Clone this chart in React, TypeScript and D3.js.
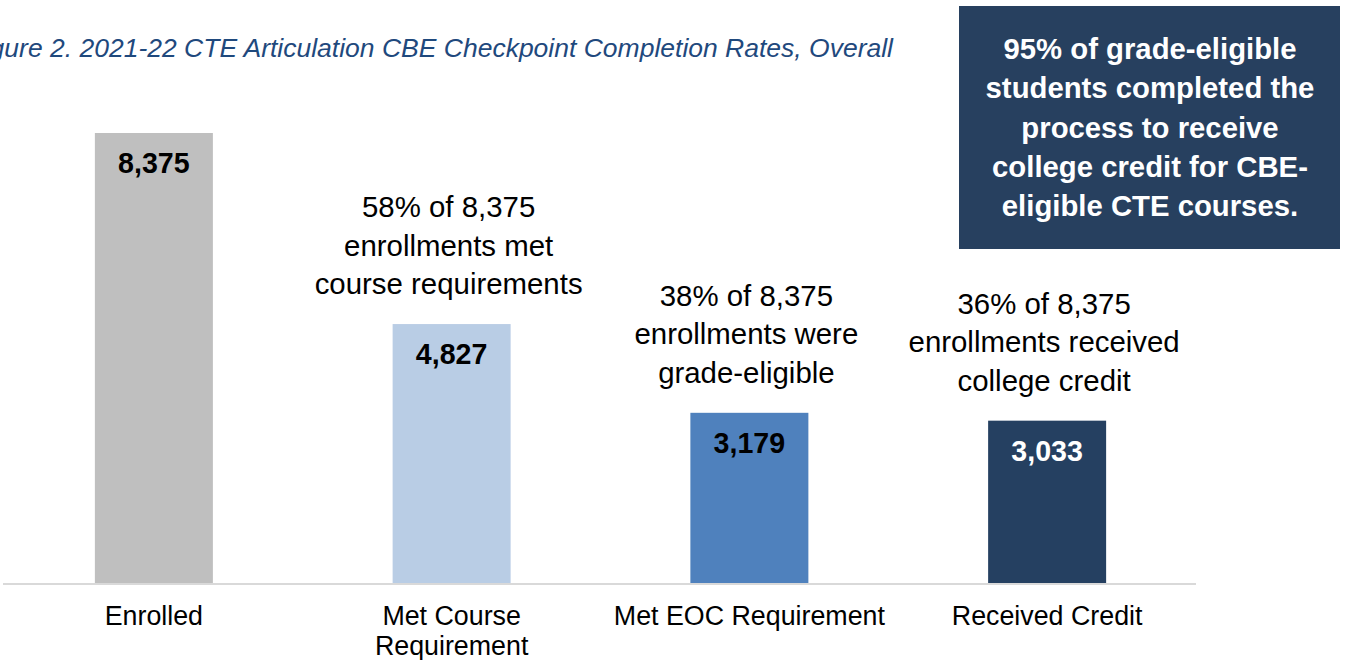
import React from "react";
import * as d3 from "d3";

const categories = ["Enrolled", "Met Course Requirement", "Met EOC Requirement", "Received Credit"];
const categoryLines = [["Enrolled"], ["Met Course", "Requirement"], ["Met EOC Requirement"], ["Received Credit"]];
const values = [8375, 4827, 3179, 3033];
const colors = ["#bfbfbf", "#b9cde5", "#4f81bd", "#254061"];
const labelColors = ["#000000", "#000000", "#000000", "#ffffff"];
const annotations: string[][] = [
  [],
  ["58% of 8,375", "enrollments met", "course requirements"],
  ["38% of 8,375", "enrollments were", "grade-eligible"],
  ["36% of 8,375", "enrollments received", "college credit"],
];
const title = "Figure 2. 2021-22 CTE Articulation CBE Checkpoint Completion Rates, Overall";
const calloutLines = [
  "95% of grade-eligible",
  "students completed the",
  "process to receive",
  "college credit for CBE-",
  "eligible CTE courses.",
];

const W = 1349;
const H = 660;
const FONT = "Liberation Sans, Arial, sans-serif";

export default function App() {
  const x = d3.scaleBand<string>().domain(categories).range([5, 1196]).padding(0);
  const y = d3.scaleLinear().domain([0, 8375]).range([584, 133]);
  const barW = 118;
  const fmt = d3.format(",");

  return (
    <svg
      width={W}
      height={H}
      style={{ position: "absolute", left: 0, top: 0, background: "#fff" }}
      fontFamily={FONT}
    >
      <text
        x={893}
        y={57}
        textAnchor="end"
        fontSize={26.5}
        fontStyle="italic"
        fill="#1f497d"
      >
        {title}
      </text>

      {categories.map((c, i) => {
        const cx = (x(c) as number) + x.bandwidth() / 2;
        const top = y(values[i]);
        return (
          <g key={c}>
            <rect x={cx - barW / 2} y={top} width={barW} height={y(0) - top} fill={colors[i]} />
            <text
              x={cx}
              y={top + 40}
              textAnchor="middle"
              fontSize={28.6}
              fontWeight="bold"
              fill={labelColors[i]}
            >
              {fmt(values[i])}
            </text>
            {annotations[i].map((line, j) => (
              <text
                key={j}
                x={cx - 3}
                y={top - 30 - (annotations[i].length - 1 - j) * 38.5}
                textAnchor="middle"
                fontSize={29.4}
                fill="#000"
              >
                {line}
              </text>
            ))}
            {categoryLines[i].map((line, j) => (
              <text
                key={j}
                x={cx}
                y={625 + j * 30}
                textAnchor="middle"
                fontSize={26.8}
                fill="#000"
              >
                {line}
              </text>
            ))}
          </g>
        );
      })}

      <line x1={3} x2={1196} y1={584} y2={584} stroke="#d9d9d9" strokeWidth={2} />

      <rect x={959} y={6} width={381} height={243} fill="#27405f" />
      {calloutLines.map((line, i) => (
        <text
          key={i}
          x={1150}
          y={59 + i * 39.3}
          textAnchor="middle"
          fontSize={29.3}
          fontWeight="bold"
          fill="#ffffff"
        >
          {line}
        </text>
      ))}
    </svg>
  );
}
